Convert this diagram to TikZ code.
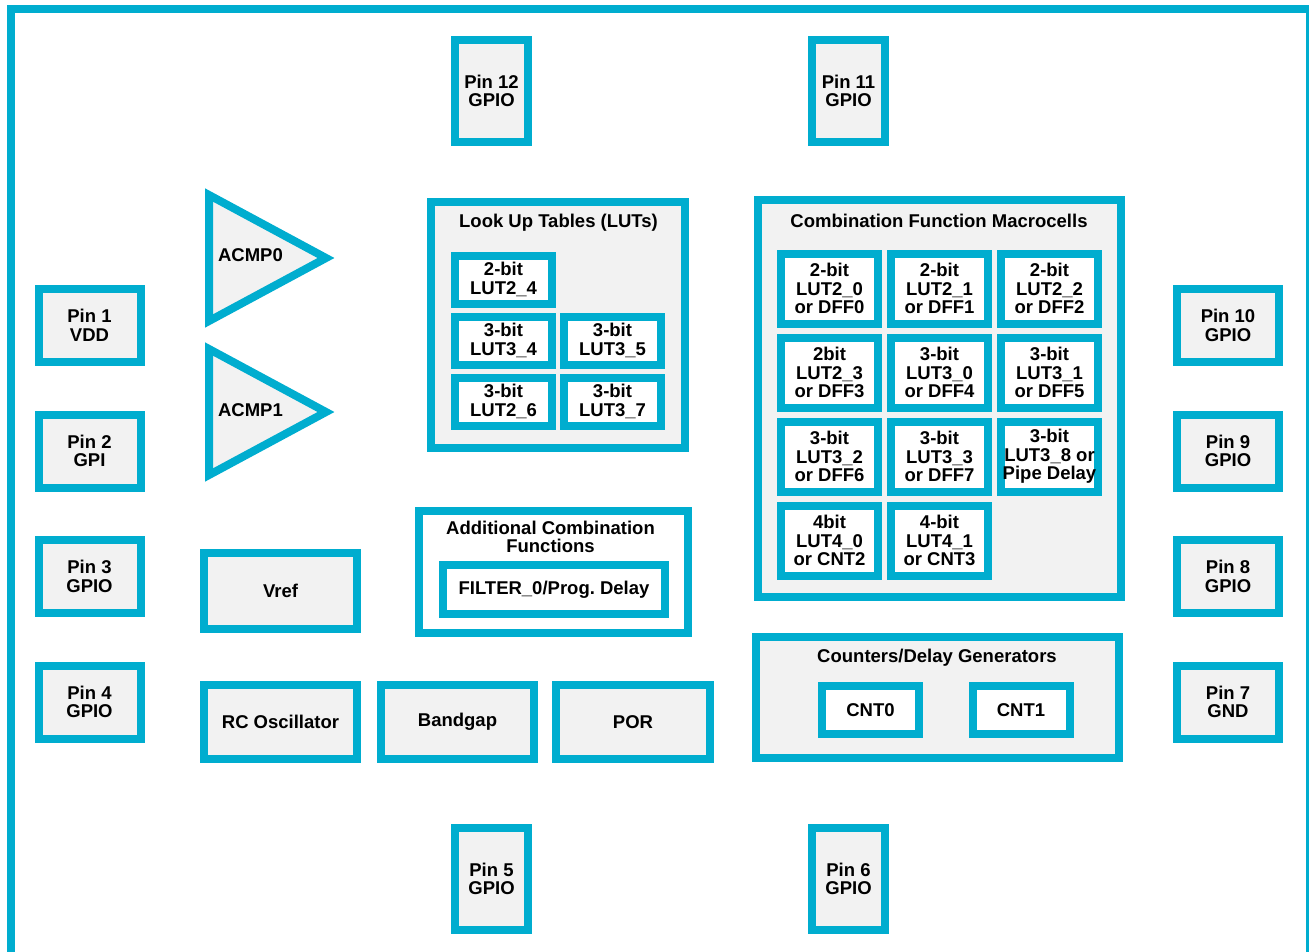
\documentclass[tikz,border=0pt]{standalone}
\usepackage{fontspec}
\setmainfont{Liberation Sans}
\usetikzlibrary{positioning}
\definecolor{chipblue}{RGB}{0,173,207}
\definecolor{chipgray}{RGB}{242,242,242}

\begin{document}
\begin{tikzpicture}[
    x=1pt, y=-1pt,
    line width=8pt,
    node distance=14pt and 13pt,
    font=\bfseries\fontsize{18.5}{18.5}\selectfont,
    block node/.style={draw=chipblue,fill=chipgray,inner sep=0pt,outer sep=0pt,align=center},
    pin node/.style={block node,minimum width=73pt,minimum height=102pt},
    side pin node/.style={block node,minimum width=102pt,minimum height=73pt},
    cell node/.style={draw=chipblue,fill=white,inner sep=0pt,outer sep=0pt,align=center,minimum width=97pt,minimum height=48pt},
    macro node/.style={cell node,minimum height=70pt},
    title node/.style={inner sep=0pt,align=center}]

  \useasboundingbox (0,0) rectangle (1309,951);
  \clip (0,0) rectangle (1309,951);
  \draw[chipblue] (11,9) rectangle (1310,980);

  % pins
  \node[pin node] (Pin12) at (491.5,91) {Pin 12\\GPIO};
  \node[pin node] (Pin11) at (848.5,91) {Pin 11\\GPIO};
  \node[pin node] (Pin5) at (491.5,879) {Pin 5\\GPIO};
  \node[pin node] (Pin6) at (848.5,879) {Pin 6\\GPIO};
  \node[side pin node] (Pin1) at (89.5,325.5) {Pin 1\\VDD};
  \node[side pin node] (Pin2) at (89.5,451) {Pin 2\\GPI};
  \node[side pin node] (Pin3) at (89.5,576.5) {Pin 3\\GPIO};
  \node[side pin node] (Pin4) at (89.5,702) {Pin 4\\GPIO};
  \node[side pin node] (Pin10) at (1228,325.5) {Pin 10\\GPIO};
  \node[side pin node] (Pin9) at (1228,451) {Pin 9\\GPIO};
  \node[side pin node] (Pin8) at (1228,576.5) {Pin 8\\GPIO};
  \node[side pin node] (Pin7) at (1228,702) {Pin 7\\GND};

  % comparators
  \draw[chipblue,fill=chipgray] (209,195) -- (326,258) -- (209,321) -- cycle;
  \node[title node] (ACMP0) at (250.5,255) {ACMP0};
  \draw[chipblue,fill=chipgray] (209,349) -- (326,412) -- (209,475) -- cycle;
  \node[title node] (ACMP1) at (250.5,410) {ACMP1};

  % analog blocks
  \node[block node,minimum width=153pt,minimum height=76pt] (Vref) at (280.5,591) {Vref};
  \node[block node,minimum width=153pt,minimum height=74pt] (RCOsc) at (280.5,722) {RC Oscillator};
  \node[block node,minimum width=153pt,minimum height=74pt] (Bandgap) at (457.5,722) {Bandgap};
  \node[block node,minimum width=154pt,minimum height=74pt] (POR) at (633,722) {POR};

  % look up tables
  \node[block node,minimum width=254pt,minimum height=246pt] (LUTs) at (558,325) {};
  \node[title node] (LUTsTitle) at (558.5,223) {Look Up Tables (LUTs)};
  \node[cell node] (LUT24) at (503.5,279.5) {2-bit\\LUT2\_4};
  \node[cell node] (LUT34) [below=13pt of LUT24] {3-bit\\LUT3\_4};
  \node[cell node] (LUT35) [right=12pt of LUT34] {3-bit\\LUT3\_5};
  \node[cell node] (LUT26) [below=13pt of LUT34] {3-bit\\LUT2\_6};
  \node[cell node] (LUT37) [right=12pt of LUT26] {3-bit\\LUT3\_7};

  % combination function macrocells
  \node[block node,minimum width=363pt,minimum height=397pt] (CFM) at (939.5,398.5) {};
  \node[title node] (CFMTitle) at (939,221) {Combination Function Macrocells};
  \node[macro node] (LUT20) at (829.5,288.5) {2-bit\\LUT2\_0\\or DFF0};
  \node[macro node] (LUT21) [right=of LUT20] {2-bit\\LUT2\_1\\or DFF1};
  \node[macro node] (LUT22) [right=of LUT21] {2-bit\\LUT2\_2\\or DFF2};
  \node[macro node] (LUT23) [below=of LUT20] {2bit\\LUT2\_3\\or DFF3};
  \node[macro node] (LUT30) [right=of LUT23] {3-bit\\LUT3\_0\\or DFF4};
  \node[macro node] (LUT31) [right=of LUT30] {3-bit\\LUT3\_1\\or DFF5};
  \node[macro node] (LUT32) [below=of LUT23] {3-bit\\LUT3\_2\\or DFF6};
  \node[macro node] (LUT33) [right=of LUT32] {3-bit\\LUT3\_3\\or DFF7};
  \node[macro node] (LUT38) [right=of LUT33] {3-bit\\LUT3\_8 or\\Pipe Delay};
  \node[macro node] (LUT40) [below=of LUT32] {4bit\\LUT4\_0\\or CNT2};
  \node[macro node] (LUT41) [right=of LUT40] {4-bit\\LUT4\_1\\or CNT3};

  % additional combination functions
  \node[draw=chipblue,fill=white,minimum width=269pt,minimum height=122pt] (ACF) at (553.5,572) {};
  \node[title node] (ACFTitle) at (550.5,537) {Additional Combination\\Functions};
  \node[cell node,minimum width=222pt,minimum height=49pt] (Filter0) at (554,589.5) {FILTER\_0/Prog.\ Delay};

  % counters
  \node[block node,minimum width=363pt,minimum height=121pt] (Counters) at (937.5,697.5) {};
  \node[title node] (CountersTitle) at (937,658) {Counters/Delay Generators};
  \node[cell node] (CNT0) at (870.5,710) {CNT0};
  \node[cell node] (CNT1) at (1021,710) {CNT1};
\end{tikzpicture}
\end{document}
